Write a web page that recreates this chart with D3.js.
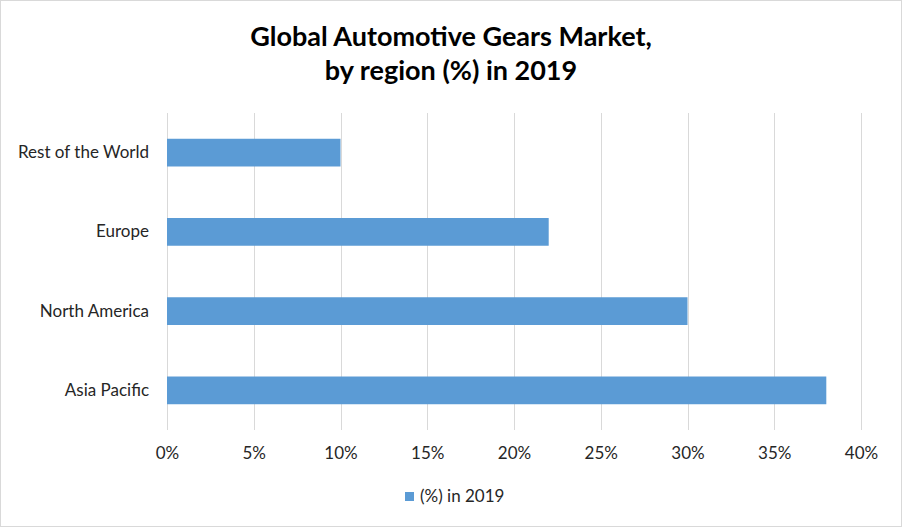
<!DOCTYPE html>
<html>
<head>
<meta charset="utf-8">
<script src="https://cdn.jsdelivr.net/npm/d3@7"></script>
<style>
  body { margin: 0; background: #fff; }
  text { font-family: Lato, "Open Sans", sans-serif; fill: #262626; }
</style>
</head>
<body>
<div id="chart"></div>
<script>
// data
var regions = ["Rest of the World", "Europe", "North America", "Asia Pacific"]
var share2019 = [10, 22, 30, 38]
var xTicks = [0, 5, 10, 15, 20, 25, 30, 35, 40]
var seriesName = "(%) in 2019"

var W = 902, H = 527
var margin = { top: 113, right: 41, bottom: 97, left: 167 }

var svg = d3.select("#chart")
  .append("svg")
  .attr("width", W)
  .attr("height", H)

// outer border
svg.append("rect")
  .attr("x", 0.5).attr("y", 0.5)
  .attr("width", W - 1).attr("height", H - 1)
  .attr("fill", "#fff")
  .attr("stroke", "#d9d9d9")

// title
var title = svg.append("text")
  .attr("text-anchor", "middle")
  .style("font-size", "27px")
  .style("font-weight", "bold")
  .style("fill", "#000")
title.append("tspan").attr("x", W / 2).attr("y", 46).text("Global Automotive Gears Market,")
title.append("tspan").attr("x", W / 2).attr("y", 80).text("by region (%) in 2019")

var x = d3.scaleLinear()
  .domain([0, 40])
  .range([margin.left, W - margin.right])

var y = d3.scaleBand()
  .domain(regions)
  .range([margin.top, H - margin.bottom])
  .paddingInner(0.65)
  .paddingOuter(0.325)

// gridlines
svg.append("g")
  .selectAll("line")
  .data(xTicks)
  .enter()
  .append("line")
  .attr("x1", function (d) { return Math.round(x(d)) + 0.5 })
  .attr("x2", function (d) { return Math.round(x(d)) + 0.5 })
  .attr("y1", margin.top)
  .attr("y2", H - margin.bottom)
  .attr("stroke", "#d9d9d9")

// x axis labels
var xAxis = svg.append("g")
  .attr("transform", "translate(0," + (H - margin.bottom) + ")")
  .call(d3.axisBottom(x).tickValues(xTicks).tickSize(0).tickPadding(17)
    .tickFormat(function (d) { return d + "%" }))
xAxis.select(".domain").remove()
xAxis.selectAll("text")
  .style("font-size", "17px")
  .style("font-family", "Lato, 'Open Sans', sans-serif")
  .attr("fill", "#262626")

// y axis labels
var yAxis = svg.append("g")
  .attr("transform", "translate(" + margin.left + ",0)")
  .call(d3.axisLeft(y).tickSize(0).tickPadding(18))
yAxis.select(".domain").remove()
yAxis.selectAll("text")
  .style("font-size", "17px")
  .style("font-family", "Lato, 'Open Sans', sans-serif")
  .attr("fill", "#262626")

// bars
svg.append("g")
  .selectAll("rect")
  .data(regions)
  .enter()
  .append("rect")
  .attr("x", x(0))
  .attr("y", function (d) { return y(d) })
  .attr("width", function (d, i) { return x(share2019[i]) - x(0) })
  .attr("height", y.bandwidth())
  .attr("fill", "#5b9bd5")

// legend
var legend = svg.append("g").attr("transform", "translate(405,492)")
legend.append("rect")
  .attr("width", 9).attr("height", 9)
  .attr("fill", "#5b9bd5")
legend.append("text")
  .attr("x", 15).attr("y", 9.5)
  .style("font-size", "17px")
  .text(seriesName)
</script>
</body>
</html>
